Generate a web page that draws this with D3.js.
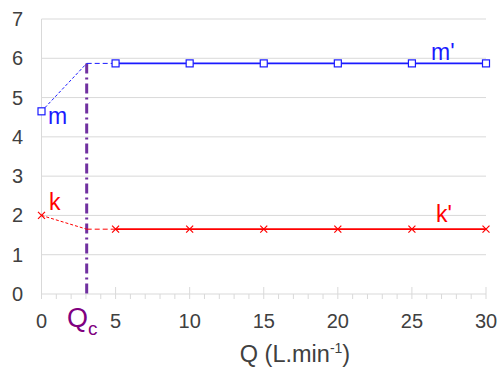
<!DOCTYPE html>
<html lang="en">
<head>
<meta charset="UTF-8">
<title>m and k vs Q</title>
<script src="https://d3js.org/d3.v7.min.js"></script>
<style>
  body { margin: 0; background: #fff; }
  text { font-family: Arial, "Liberation Sans", sans-serif; }
</style>
</head>
<body>
<svg id="chart" width="497" height="371"></svg>
<script>
// data
const qCrit = 3.05;
const qValues = [5, 10, 15, 20, 25, 30];
const mStart = 4.65, mPlateau = [5.87, 5.87, 5.87, 5.87, 5.87, 5.87];
const kStart = 2.0, kPlateau = [1.65, 1.65, 1.65, 1.65, 1.65, 1.65];
const xTicks = [0, 5, 10, 15, 20, 25, 30];
const yTicks = [0, 1, 2, 3, 4, 5, 6, 7];

const svg = d3.select("#chart");
const x = d3.scaleLinear().domain([0, 30]).range([41.5, 486]);
const y = d3.scaleLinear().domain([0, 7]).range([294, 19]);

const blue = "#1a1aff", red = "#ff0000", purple = "#7030a0", grid = "#d9d9d9", txt = "#404040";

// grid
svg.append("g").selectAll("line").data(yTicks.slice(1)).join("line")
  .attr("x1", x(0)).attr("x2", x(30))
  .attr("y1", d => y(d)).attr("y2", d => y(d))
  .attr("stroke", grid).attr("stroke-width", 1);

// axes lines
svg.append("line").attr("x1", x(0)).attr("x2", x(30)).attr("y1", y(0)).attr("y2", y(0))
  .attr("stroke", grid);
svg.append("line").attr("x1", x(0)).attr("x2", x(0)).attr("y1", y(7)).attr("y2", y(0) + 5)
  .attr("stroke", grid);

// x ticks (minor every 1, major every 5)
svg.append("g").selectAll("line").data(d3.range(1, 31)).join("line")
  .attr("x1", d => x(d)).attr("x2", d => x(d))
  .attr("y1", d => d % 5 === 0 ? y(0) - 7 : y(0))
  .attr("y2", y(0) + 5)
  .attr("stroke", grid);

// tick labels
svg.append("g").selectAll("text").data(yTicks).join("text")
  .attr("x", 23).attr("y", d => y(d)).attr("dy", "0.35em")
  .attr("text-anchor", "end").attr("font-size", 20).attr("fill", txt)
  .text(d => d);
svg.append("g").selectAll("text").data(xTicks).join("text")
  .attr("x", d => x(d)).attr("y", 328)
  .attr("text-anchor", "middle").attr("font-size", 20).attr("fill", txt)
  .text(d => d);

// axis title
const title = svg.append("text").attr("x", 295).attr("y", 362)
  .attr("text-anchor", "middle").attr("font-size", 23.5).attr("fill", txt);
title.append("tspan").text("Q (L.min");
title.append("tspan").attr("font-size", 14).attr("dy", -9).text("-1");
title.append("tspan").attr("dy", 9).text(")");

// critical flow line
svg.append("line").attr("x1", x(qCrit)).attr("x2", x(qCrit))
  .attr("y1", y(mPlateau[0])).attr("y2", y(0))
  .attr("stroke", purple).attr("stroke-width", 3)
  .attr("stroke-dasharray", "10,4,2,4");

const qc = svg.append("text").attr("x", 67).attr("y", 327)
  .attr("font-size", 27).attr("fill", "#800080");
qc.append("tspan").text("Q");
qc.append("tspan").attr("font-size", 19).attr("dy", 8).text("c");

const line = d3.line().x(d => x(d[0])).y(d => y(d[1]));

function series(start, plateau, color) {
  const pts = qValues.map((q, i) => [q, plateau[i]]);
  svg.append("path").attr("d", line([[0, start], [qCrit, plateau[0]]]))
    .attr("fill", "none").attr("stroke", color).attr("stroke-width", 1)
    .attr("stroke-dasharray", "3,2");
  svg.append("path").attr("d", line([[qCrit, plateau[0]], pts[0]]))
    .attr("fill", "none").attr("stroke", color).attr("stroke-width", 1)
    .attr("stroke-dasharray", "5,3");
  svg.append("path").attr("d", line(pts))
    .attr("fill", "none").attr("stroke", color).attr("stroke-width", 1.8);
  return [[0, start]].concat(pts);
}

const mPts = series(mStart, mPlateau, blue);
const kPts = series(kStart, kPlateau, red);

svg.append("g").selectAll("rect").data(mPts).join("rect")
  .attr("x", d => x(d[0]) - 3.5).attr("y", d => y(d[1]) - 3.5)
  .attr("width", 7).attr("height", 7)
  .attr("fill", "#fff").attr("stroke", blue).attr("stroke-width", 1.2);

svg.append("g").selectAll("path").data(kPts).join("path")
  .attr("d", d => {
    const cx = x(d[0]), cy = y(d[1]), s = 3.5;
    return `M${cx - s},${cy - s}L${cx + s},${cy + s}M${cx - s},${cy + s}L${cx + s},${cy - s}`;
  })
  .attr("stroke", red).attr("stroke-width", 1.2);

// series labels
svg.append("text").attr("x", 48).attr("y", 124).attr("font-size", 23).attr("fill", blue).text("m");
svg.append("text").attr("x", 431).attr("y", 60).attr("font-size", 23).attr("fill", blue).text("m'");
svg.append("text").attr("x", 49).attr("y", 210).attr("font-size", 23).attr("fill", red).text("k");
svg.append("text").attr("x", 436).attr("y", 222).attr("font-size", 23).attr("fill", red).text("k'");
</script>
</body>
</html>
